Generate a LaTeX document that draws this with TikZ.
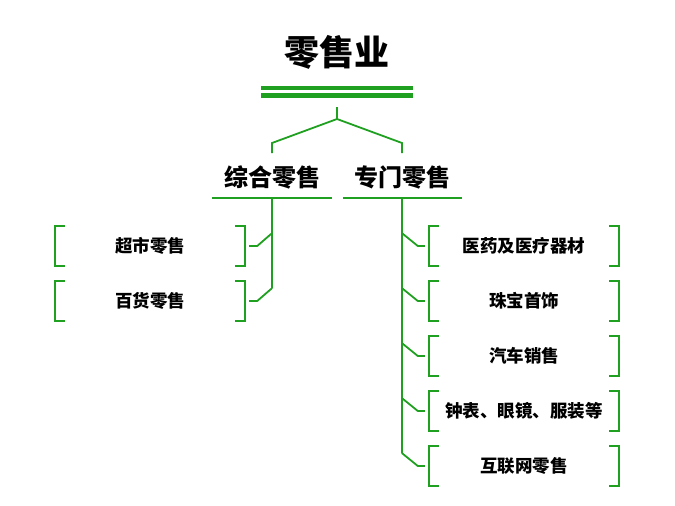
\documentclass[tikz,border=0pt]{standalone}
\usepackage{fontspec}
\setmainfont{Noto Sans CJK SC}
\usetikzlibrary{positioning}
\definecolor{grn}{HTML}{20A020}
\tikzset{
  ln/.style={draw=grn,line width=1.8pt},
  dbl/.style={draw=grn,line width=4.5pt},
  head/.style={font=\bfseries\fontsize{24}{24}\selectfont,minimum width=120pt,minimum height=42pt,inner sep=0pt},
  leaf/.style={font=\bfseries\fontsize{17.5}{17.5}\selectfont,minimum width=190pt,minimum height=40pt,inner sep=0pt},
  brk/.style={ln},
}
\newcommand{\bracketbox}[1]{%
  \draw[brk] ([xshift=10pt]#1.north west) -- (#1.north west) -- (#1.south west) -- ++(10,0);
  \draw[brk] ([xshift=-10pt]#1.north east) -- (#1.north east) -- (#1.south east) -- ++(-10,0);}

\begin{document}
\begin{tikzpicture}[x=1pt,y=-1pt]
\useasboundingbox (0,0) rectangle (675,506);
% ---- title ----
\node[font=\bfseries\fontsize{35}{35}\selectfont,minimum width=152pt,minimum height=70pt,inner sep=0pt] (ttl) at (337,52) {零售业};
\draw[dbl] ([yshift=-1pt]ttl.south west) -- ([yshift=-1pt]ttl.south east);
\draw[dbl] ([yshift=-8.5pt]ttl.south west) -- ([yshift=-8.5pt]ttl.south east);
\coordinate (top) at (337,107);
\coordinate (fork) at (337,119);

% ---- second level ----
\node[head] (gen) at (272,177) {综合零售};
\node[head,minimum width=119pt] (spec) at (402.5,177) {专门零售};
\draw[ln] (gen.south west) -- (gen.south east);
\draw[ln] (spec.south west) -- (spec.south east);
\draw[ln] (top) -- (fork) -- ++(-65,24) -- ++(0,10);
\draw[ln] (fork) -- ++(65,24) -- ++(0,10);

% ---- general retail ----
\draw[ln] (gen.south) -- ++(0,90);
\node[leaf] (sup) at (150,246) {\raisebox{-1.5pt}{超市零售}};
\node[leaf] (dept) at (150,301) {\raisebox{-1.5pt}{百货零售}};
\foreach \b in {sup,dept}{
  \bracketbox{\b}
  \draw[ln] ([xshift=4pt]\b.east) -- ++(8,0) -- ++(15,-13);
}

% ---- specialty retail ----
\draw[ln] ([xshift=-0.5pt]spec.south) -- ++(0,255);
\foreach \t [count=\i] in {医药及医疗器材,珠宝首饰,汽车销售,{钟表、眼镜、服装等},互联网零售}{
  \node[leaf] (r\i) at (524,191+55*\i) {\raisebox{-1.5pt}{\t}};
  \bracketbox{r\i}
  \draw[ln] ([xshift=-4pt]r\i.west) -- ++(-7,0) -- ++(-16,-13);
}
\end{tikzpicture}
\end{document}
